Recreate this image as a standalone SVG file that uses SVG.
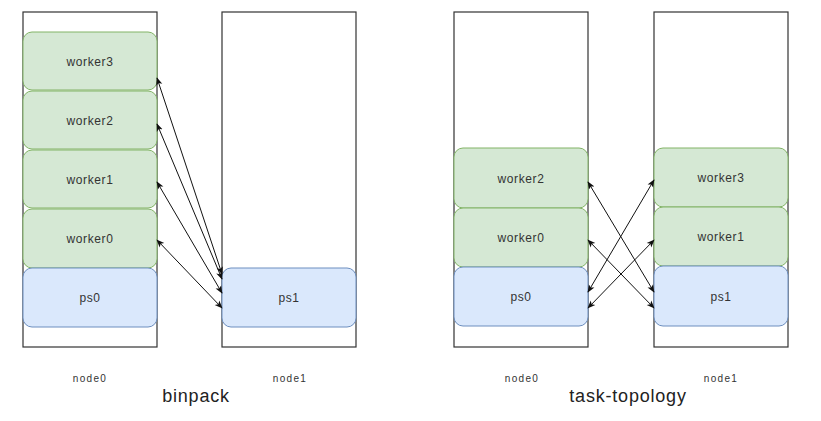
<svg xmlns="http://www.w3.org/2000/svg" width="821" height="421" viewBox="0 0 821 421">
<style>
.host{fill:#fff;stroke:#333;stroke-width:1.2}
.w{fill:#d5e8d4;stroke:#82b366;stroke-width:1}
.p{fill:#dae8fc;stroke:#6c8ebf;stroke-width:1}
.t{font-family:"Liberation Sans",Arial,sans-serif;font-size:12px;letter-spacing:0.6px;fill:#333;text-anchor:middle}
.n{font-family:"Liberation Sans",Arial,sans-serif;font-size:10px;letter-spacing:1.3px;fill:#333;text-anchor:middle}
.c{font-family:"Liberation Sans",Arial,sans-serif;font-size:18px;letter-spacing:0.8px;fill:#222;text-anchor:middle}
.e{stroke:#111;stroke-width:1;fill:none;marker-start:url(#a);marker-end:url(#a)}
</style>
<defs>
<marker id="a" viewBox="0 0 10 10" refX="9" refY="5" markerWidth="8" markerHeight="8" orient="auto-start-reverse" markerUnits="userSpaceOnUse">
<path d="M0,1 L10,5 L0,9 L2.5,5 Z" fill="#111"/>
</marker>
</defs>
<rect width="821" height="421" fill="#fff"/>
<g id="left-node0"><rect class="host" x="23" y="12" width="134" height="335"/><text class="n" x="90" y="382">node0</text></g>
<g id="left-node1"><rect class="host" x="222" y="12" width="134" height="335"/><text class="n" x="290" y="382">node1</text></g>
<g id="right-node0"><rect class="host" x="454" y="12" width="134" height="335"/><text class="n" x="522" y="382">node0</text></g>
<g id="right-node1"><rect class="host" x="654" y="12" width="134" height="335"/><text class="n" x="721" y="382">node1</text></g>
<g id="l-worker3"><rect class="w" x="23" y="32" width="134" height="58" rx="9"/><text class="t" x="90" y="66">worker3</text></g>
<g id="l-worker2"><rect class="w" x="23" y="91" width="134" height="58" rx="9"/><text class="t" x="90" y="125">worker2</text></g>
<g id="l-worker1"><rect class="w" x="23" y="150" width="134" height="58" rx="9"/><text class="t" x="90" y="184">worker1</text></g>
<g id="l-worker0"><rect class="w" x="23" y="209" width="134" height="59" rx="9"/><text class="t" x="90" y="243">worker0</text></g>
<g id="l-ps0"><rect class="p" x="23" y="268" width="134" height="59" rx="9"/><text class="t" x="90" y="302">ps0</text></g>
<g id="l-ps1"><rect class="p" x="222" y="268" width="134" height="59" rx="9"/><text class="t" x="289" y="302">ps1</text></g>
<g id="r-worker2"><rect class="w" x="454" y="148" width="134" height="60" rx="9"/><text class="t" x="521" y="183">worker2</text></g>
<g id="r-worker0"><rect class="w" x="454" y="208" width="134" height="59" rx="9"/><text class="t" x="521" y="242">worker0</text></g>
<g id="r-ps0"><rect class="p" x="454" y="267" width="134" height="59" rx="9"/><text class="t" x="521" y="301">ps0</text></g>
<g id="r-worker3"><rect class="w" x="654" y="148" width="134" height="59" rx="9"/><text class="t" x="721" y="182">worker3</text></g>
<g id="r-worker1"><rect class="w" x="654" y="207" width="134" height="59" rx="9"/><text class="t" x="721" y="241">worker1</text></g>
<g id="r-ps1"><rect class="p" x="654" y="266" width="134" height="60" rx="9"/><text class="t" x="721" y="301">ps1</text></g>
<text class="c" x="196" y="402">binpack</text>
<text class="c" x="628" y="402">task-topology</text>
<g id="connectors">
<line class="e" x1="157" y1="78" x2="222" y2="274"/>
<line class="e" x1="157" y1="124" x2="222" y2="279"/>
<line class="e" x1="157" y1="182" x2="222" y2="293"/>
<line class="e" x1="157" y1="240" x2="222" y2="308"/>
<line class="e" x1="588" y1="182" x2="654" y2="292"/>
<line class="e" x1="588" y1="240" x2="654" y2="308"/>
<line class="e" x1="588" y1="292" x2="654" y2="180"/>
<line class="e" x1="588" y1="308" x2="654" y2="240"/>
</g>
</svg>
